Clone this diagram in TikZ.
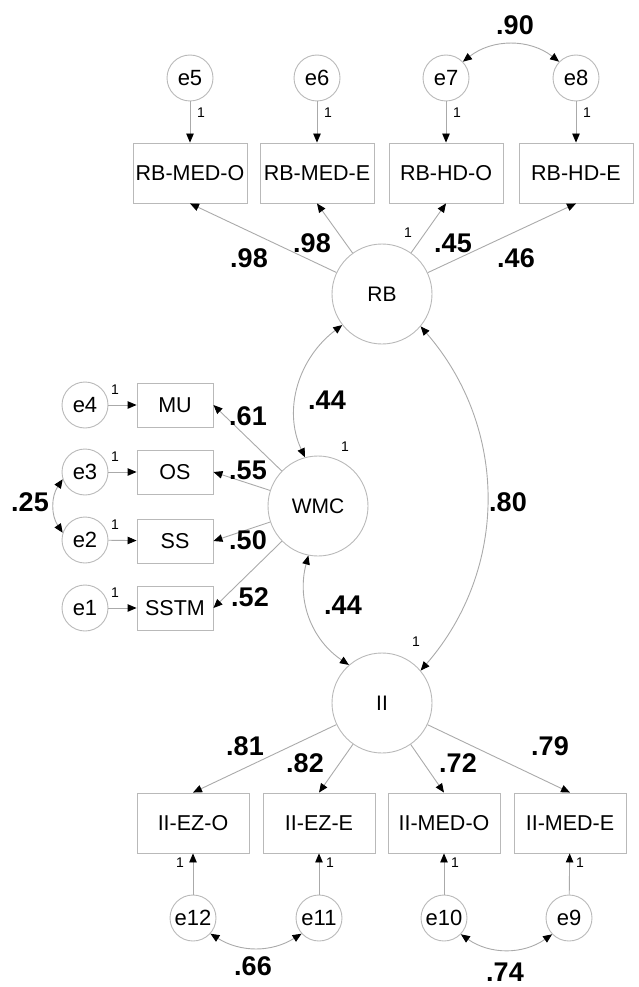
\documentclass[tikz,border=0pt]{standalone}
\usepackage{fontspec}
\setmainfont{Liberation Sans}
\usetikzlibrary{arrows.meta}
\definecolor{edgec}{RGB}{170,170,170}
\definecolor{shapec}{RGB}{185,185,185}
\begin{document}
\begin{tikzpicture}[x=1pt,y=1pt,
  lat/.style={circle,draw=shapec,line width=0.9pt,minimum size=100pt,inner sep=0pt,font=\fontsize{21}{24}\selectfont},
  err/.style={circle,draw=shapec,line width=0.9pt,minimum size=46pt,inner sep=0pt,font=\fontsize{22}{24}\selectfont},
  obs/.style={rectangle,draw=shapec,line width=0.9pt,minimum width=114pt,minimum height=60pt,inner sep=0pt,font=\fontsize{21.5}{24}\selectfont},
  sobs/.style={obs,minimum width=76pt,minimum height=44pt},
  arr/.style={draw=edgec,line width=0.9pt,-{Triangle[length=9pt,width=7.5pt,color=black]}},
  cov/.style={draw=edgec,line width=0.9pt,{Triangle[length=9pt,width=7.5pt,color=black]}-{Triangle[length=9pt,width=7.5pt,color=black]}},
  coef/.style={font=\fontsize{27}{30}\selectfont\bfseries,inner sep=1pt},
  one/.style={font=\fontsize{14}{16}\selectfont,inner sep=1pt}]
\useasboundingbox (0,0) rectangle (638,-987);

% top error terms and indicators
\node[err] (e5) at (190,-78) {e5};
\node[err] (e6) at (317,-78) {e6};
\node[err] (e7) at (446,-78) {e7};
\node[err] (e8) at (576,-78) {e8};
\node[obs] (b5) at (190,-173) {RB-MED-O};
\node[obs] (b6) at (317,-173) {RB-MED-E};
\node[obs] (b7) at (446,-173) {RB-HD-O};
\node[obs] (b8) at (576,-173) {RB-HD-E};
\draw[arr] (e5) -- (b5);
\draw[arr] (e6) -- (b6);
\draw[arr] (e7) -- (b7);
\draw[arr] (e8) -- (b8);
\node[one] (o5) at (201,-113) {1};
\node[one] (o6) at (328,-113) {1};
\node[one] (o7) at (457,-113) {1};
\node[one] (o8) at (587,-113) {1};
\draw[cov] (e7.44) to[out=38,in=142] (e8.136);
\node[coef] (c90) at (515,-25) {.90};

% latent variables
\node[lat] (RB) at (382,-294) {RB};
\node[lat] (WMC) at (318,-506) {WMC};
\node[lat] (II) at (382,-703) {II};

\draw[arr] (RB) -- (b5.south);
\draw[arr] (RB) -- (b6.south);
\draw[arr] (RB) -- (b7.south);
\draw[arr] (RB) -- (b8.south);
\node[coef] (l1) at (249,-258) {.98};
\node[coef] (l2) at (312,-243) {.98};
\node[one] (l3o) at (408,-233) {1};
\node[coef] (l3) at (453,-243) {.45};
\node[coef] (l4) at (516,-258) {.46};

% WMC indicators
\node[err] (e4) at (85,-405) {e4};
\node[err] (e3) at (85,-472) {e3};
\node[err] (e2) at (85,-540) {e2};
\node[err] (e1) at (85,-608) {e1};
\node[sobs] (MU) at (175,-405) {MU};
\node[sobs] (OS) at (175,-472) {OS};
\node[sobs] (SS) at (175,-541) {SS};
\node[sobs] (SSTM) at (175,-608) {SSTM};
\draw[arr] (e4) -- (MU);
\draw[arr] (e3) -- (OS);
\draw[arr] (e2) -- (SS);
\draw[arr] (e1) -- (SSTM);
\node[one] (o4) at (115,-390) {1};
\node[one] (o3) at (115,-457) {1};
\node[one] (o2) at (115,-525) {1};
\node[one] (o1) at (115,-593) {1};
\draw[cov] (e3.-162) to[out=-124,in=124] (e2.162);
\node[coef] (c25) at (30,-502) {.25};

\draw[arr] (WMC) -- (MU.east);
\draw[arr] (WMC) -- (OS.east);
\draw[arr] (WMC) -- (SS.east);
\draw[arr] (WMC) -- (SSTM.east);
\node[coef] (w1) at (248,-416) {.61};
\node[coef] (w2) at (248,-470) {.55};
\node[coef] (w3) at (248,-540) {.50};
\node[coef] (w4) at (250,-597) {.52};
\node[one] (ow) at (345,-447) {1};

% covariances among latents
\draw[cov] (RB.-142) to[out=-143,in=115] (WMC.105);
\node[coef] (c44a) at (327,-400) {.44};
\draw[cov] (WMC.-101) to[out=-105,in=146] (II.131);
\node[coef] (c44b) at (343,-605) {.44};
\draw[cov] (RB.-40) to[out=-49,in=49] (II.40);
\node[coef] (c80) at (508,-502) {.80};
\node[one] (oi) at (416,-642) {1};

% II indicators
\node[obs,minimum width=112pt] (d12) at (193,-823) {II-EZ-O};
\node[obs,minimum width=112pt] (d11) at (319,-823) {II-EZ-E};
\node[obs,minimum width=112pt] (d10) at (444,-823) {II-MED-O};
\node[obs,minimum width=112pt] (d9) at (570,-823) {II-MED-E};
\draw[arr] (II) -- (d12.north);
\draw[arr] (II) -- (d11.north);
\draw[arr] (II) -- (d10.north);
\draw[arr] (II) -- (d9.north);
\node[coef] (m1) at (245,-746) {.81};
\node[coef] (m2) at (305,-763) {.82};
\node[coef] (m3) at (458,-763) {.72};
\node[coef] (m4) at (550,-746) {.79};

\node[err] (e12) at (193,-918) {e12};
\node[err] (e11) at (319,-918) {e11};
\node[err] (e10) at (444,-918) {e10};
\node[err] (e9) at (569,-918) {e9};
\draw[arr] (e12) -- (d12);
\draw[arr] (e11) -- (d11);
\draw[arr] (e10) -- (d10);
\draw[arr] (e9) -- (d9);
\node[one] (o12) at (180,-863) {1};
\node[one] (o11) at (330,-863) {1};
\node[one] (o10) at (455,-863) {1};
\node[one] (o9) at (580,-863) {1};
\draw[cov] (e12.-42) to[out=-32,in=-148] (e11.-138);
\node[coef] (c66) at (253,-966) {.66};
\draw[cov] (e10.-44) to[out=-35,in=-145] (e9.-136);
\node[coef] (c74) at (505,-972) {.74};
\end{tikzpicture}
\end{document}
